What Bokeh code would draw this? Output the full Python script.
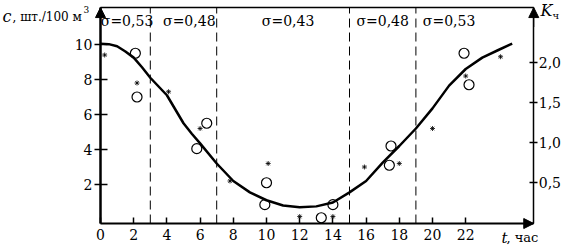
from bokeh.plotting import figure
from bokeh.models import (Range1d, LinearAxis, Label, Arrow, NormalHead,
                          FixedTicker, CustomJSTickFormatter)
from bokeh.core.properties import value
from bokeh.embed import file_html
from bokeh.resources import INLINE

# ---- data ----
curve_t = [0, 0.5, 1, 1.5, 2, 2.5, 3, 3.5, 4, 4.5, 5, 5.5, 6, 7, 8, 9, 10, 11, 12, 13, 14, 15, 16, 17, 18,
           19, 20, 21, 22, 23, 24, 24.8]
curve_c = [10.05, 10.02, 9.9, 9.6, 9.25, 8.7, 8.1, 7.6, 7.1, 6.3, 5.5, 4.9, 4.35, 3.2, 2.2, 1.55, 1.1, 0.8,
           0.7, 0.75, 0.97, 1.55, 2.2, 3.25, 4.2, 5.2, 6.35, 7.65, 8.6, 9.25, 9.7, 10.05]

circ_t = [2.1, 2.2, 6.4, 5.8, 10.0, 9.9, 13.3, 14.0, 17.5, 17.4, 21.9, 22.2]
circ_c = [9.5, 7.0, 5.5, 4.05, 2.1, 0.85, 0.1, 0.85, 4.2, 3.1, 9.5, 7.7]

star_t = [0.25, 2.2, 4.1, 6.0, 7.8, 10.1, 12.0, 14.0, 15.9, 18.0, 20.0, 22.0, 24.1]
star_c = [9.4, 7.8, 7.3, 5.2, 2.2, 3.2, 0.17, 0.17, 3.0, 3.2, 5.2, 8.2, 9.3]

bounds = [3, 7, 15, 19]
sigma_labels = ["σ=0,53", "σ=0,48", "σ=0,43", "σ=0,48", "σ=0,53"]
sigma_x = [1.6, 5.35, 11.3, 17.0, 21.0]

x_ticks = [0, 2, 4, 6, 8, 10, 12, 14, 16, 18, 20, 22]
c_ticks = [2, 4, 6, 8, 10]
k_ticks = [0.5, 1.0, 1.5, 2.0]
k_tick_labels = ["0,5", "1,0", "1,5", "2,0"]

# axis extents (data units)
T_AX_MAX = 26.1
C_AX_MIN, C_AX_MAX = -0.23, 12.11

W, H = 566, 249
SX, X0 = 16.6, 100.0      # px per hour, pixel of t=0
SY, Y0 = 17.5, 219.0      # px per unit c, pixel (from top) of c=0
SK, K0 = 80.0, 222.0      # px per unit K, pixel (from top) of K=0

K_AX_MIN, K_AX_MAX = (K0 - (Y0 - C_AX_MIN * SY)) / SK, (K0 - (Y0 - C_AX_MAX * SY)) / SK

x_rng = Range1d(-X0 / SX, (W - X0) / SX)
y_rng = Range1d((Y0 - H) / SY, Y0 / SY)
k_rng = Range1d((K0 - H) / SK, K0 / SK)

SERIF = "DejaVu Serif"

p = figure(width=W, height=H, output_backend="svg", toolbar_location=None,
           x_range=x_rng, y_range=y_rng, x_axis_location=None, y_axis_location=None,
           min_border=0)
p.outline_line_color = None
p.grid.visible = False
p.background_fill_color = "white"
p.border_fill_color = "white"
p.extra_y_ranges = {"k": k_rng}

def style(ax, lw, fs="14px"):
    ax.axis_line_color = "black"
    ax.axis_line_width = lw
    ax.major_tick_line_color = "black"
    ax.major_tick_line_width = 1.5
    ax.minor_tick_line_color = None
    ax.major_label_text_font = SERIF
    ax.major_label_text_font_size = fs
    ax.major_label_text_color = "black"

left = LinearAxis(ticker=FixedTicker(ticks=c_ticks), fixed_location=0, bounds=(C_AX_MIN, C_AX_MAX))
style(left, 2.5)
left.major_tick_in = 7
left.major_tick_out = 6
left.major_label_standoff = 2
p.add_layout(left, "left")

bottom = LinearAxis(ticker=FixedTicker(ticks=x_ticks), fixed_location=C_AX_MIN, bounds=(0, T_AX_MAX))
style(bottom, 2.0)
bottom.major_tick_in = 6
bottom.major_tick_out = 0
bottom.major_label_standoff = 5
p.add_layout(bottom, "below")

right = LinearAxis(y_range_name="k", ticker=FixedTicker(ticks=k_ticks), fixed_location=T_AX_MAX,
                   bounds=(K_AX_MIN, K_AX_MAX),
                   formatter=CustomJSTickFormatter(args=dict(labs=k_tick_labels, tv=k_ticks),
                                                   code="const i = tv.indexOf(tick); return i >= 0 ? labs[i] : '';"))
style(right, 1.5)
right.major_tick_in = 4
right.major_tick_out = 4
right.major_label_standoff = 1
p.add_layout(right, "right")

p.segment(x0=[0], y0=[C_AX_MAX], x1=[T_AX_MAX], y1=[C_AX_MAX], line_color="black", line_width=1.5)

for b in bounds:
    p.segment(x0=[b], y0=[C_AX_MIN], x1=[b], y1=[C_AX_MAX], line_color="black",
              line_width=1, line_dash="9 5")

p.line(curve_t, curve_c, line_color="black", line_width=2.5)
p.scatter(circ_t, circ_c, marker="circle", size=10, fill_color=None,
          line_color="black", line_width=1.2)
p.scatter(star_t, star_c, marker="asterisk", size=5, line_color="black", line_width=0.8)

p.text(x=sigma_x, y=[11.37] * len(sigma_x), text=sigma_labels, text_font=value(SERIF),
       text_font_size="14px", text_align="center", text_baseline="middle", text_color="black")

# arrows
for xs, ys, xe, ye in [(0, 11.0, 0, C_AX_MAX), (T_AX_MAX, 11.0, T_AX_MAX, C_AX_MAX),
                       (24.5, C_AX_MIN, T_AX_MAX, C_AX_MIN)]:
    p.add_layout(Arrow(end=NormalHead(size=10, fill_color="black", line_color="black", line_width=1),
                       x_start=xs, y_start=ys, x_end=xe, y_end=ye, line_width=1, line_color="black"))

# axis titles, positioned in data coordinates from pixel offsets
def lab(xc, yc, text, size, italic=False):
    p.add_layout(Label(x=(xc - X0) / SX, y=(Y0 - yc) / SY, text=text,
                       text_font=SERIF, text_font_style="italic" if italic else "normal",
                       text_font_size=size, text_baseline="middle", text_color="black"))

lab(2, 16, "c", "16px", True)
lab(12, 16, ", шт./100 м", "12px")
lab(83, 9, "3", "9px")
lab(540, 10, "K", "16px", True)
lab(552, 15, "ч", "10px")
lab(501, 237, "t", "15px", True)
lab(506, 237, ", час", "13px")

open("out.html", "w").write(file_html(p, INLINE))
